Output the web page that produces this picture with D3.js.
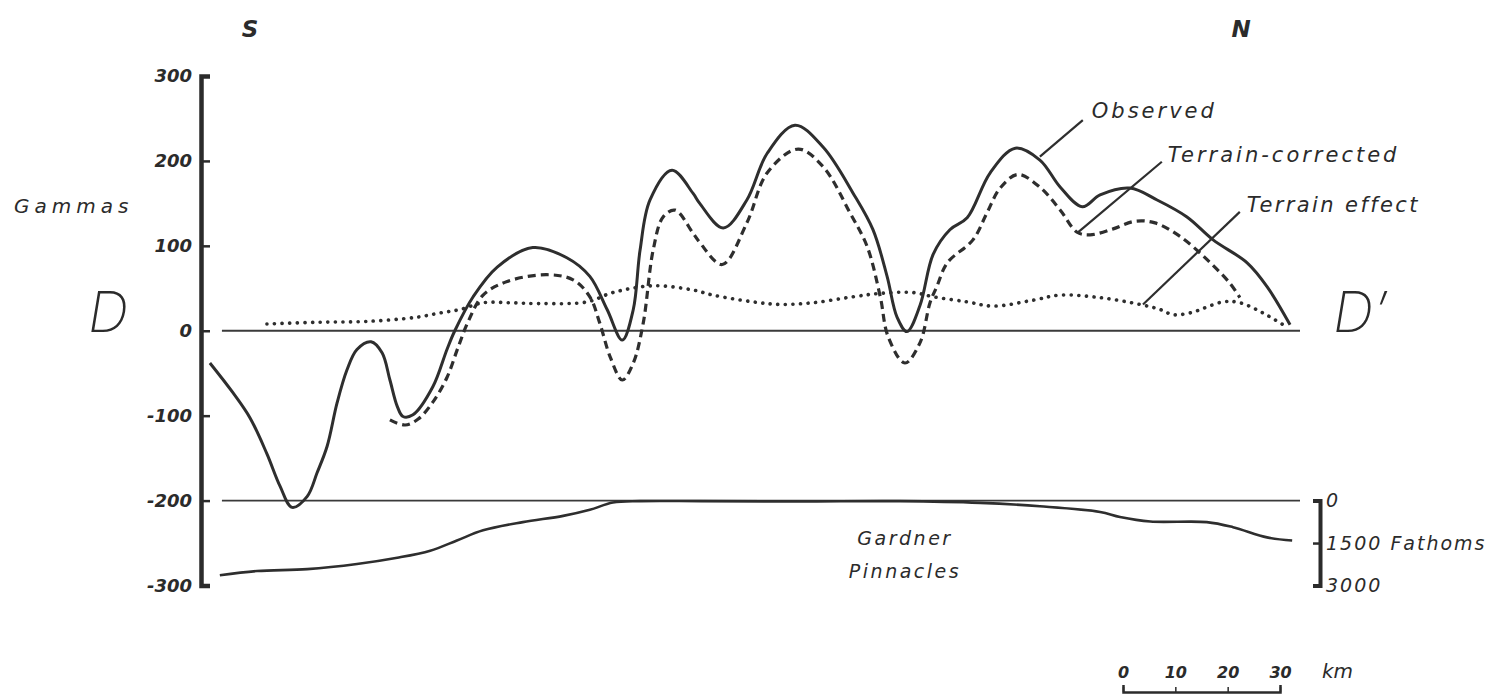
<!DOCTYPE html>
<meta charset="utf-8">
<style>
    body { margin: 0; background: #fff; }
    text {
        font-family: "DejaVu Sans", sans-serif;
        font-style: italic;
        fill: #2b2b2b;
    }
    .curve { fill: none; stroke: #2e2e2e; }
</style>

<body>
    <script src="https://d3js.org/d3.v7.min.js"></script>
    <script>
        // distance along profile D-D' in km, anomaly in gammas
        var observedKm = [1.7, 6.1, 9.4, 12.6, 15.1, 17.4, 20.3, 22.2, 24.1, 26.0, 27.9, 29.8, 32.5, 34.6, 36.1, 37.5, 38.6, 40.5, 44.3, 47.0, 48.5, 52.0, 56.6, 63.4, 69.9, 74.3, 77.6, 80.5, 82.6, 83.9, 85.8, 90.0, 94.0, 95.3, 99.8, 104.3, 108.2, 113.5, 118.9, 124.6, 128.4, 131.1, 133.0, 134.9, 137.4, 139.9, 143.1, 146.4, 150.8, 155.6, 160.3, 164.2, 168.4, 171.8, 177.5, 182.7, 188.4, 193.4, 199.9, 203.7, 208.1];
        var observedG = [-38, -73, -103, -145, -183, -208, -195, -167, -136, -85, -46, -22, -13, -26, -58, -89, -101, -99, -66, -22, 0, 40, 75, 98, 86, 64, 25, -11, 25, 95, 154, 189, 162, 150, 121, 154, 209, 242, 216, 162, 119, 64, 16, -1, 30, 90, 119, 133, 186, 215, 201, 169, 146, 160, 168, 154, 134, 107, 80, 52, 7];

        var correctedKm = [36.1, 39.0, 41.5, 44.3, 47.0, 49.1, 51.0, 53.9, 58.5, 66.1, 71.1, 74.3, 76.2, 78.2, 80.5, 82.6, 84.5, 86.4, 88.3, 90.6, 94.0, 95.3, 99.6, 104.3, 108.2, 114.1, 118.9, 124.0, 127.3, 129.8, 131.3, 134.5, 137.4, 139.3, 140.6, 142.6, 147.5, 150.2, 152.7, 156.1, 160.3, 164.2, 167.4, 169.9, 174.3, 178.5, 182.3, 187.1, 192.2, 196.6, 198.5];
        var correctedG = [-105, -111, -104, -84, -55, -20, 10, 42, 58, 66, 60, 40, 9, -31, -58, -38, 9, 95, 134, 142, 115, 104, 78, 127, 186, 214, 193, 139, 99, 40, -7, -38, -14, 33, 52, 80, 107, 139, 168, 184, 169, 142, 116, 113, 120, 129, 127, 111, 84, 56, 39];

        var effectKm = [12.6, 22.2, 31.7, 41.3, 45.7, 49.5, 53.9, 59.0, 64.8, 73.8, 78.7, 86.4, 94.0, 97.8, 105.5, 110.6, 116.9, 124.6, 129.8, 136.1, 139.9, 146.4, 151.3, 159.0, 164.2, 171.8, 179.4, 183.3, 185.7, 189.0, 195.3, 198.5, 202.9, 206.8];
        var effectG = [8, 10, 11, 16, 21, 25, 33, 33, 32, 34, 45, 53, 48, 42, 34, 31, 33, 40, 44, 45, 40, 34, 29, 36, 42, 39, 31, 25, 19, 21, 34, 33, 21, 7];

        // sea floor depth in fathoms
        var depthKm = [3.6, 10.7, 20.3, 29.8, 37.5, 43.8, 48.9, 53.9, 61.5, 69.2, 74.3, 78.7, 83.9, 95.4, 114.5, 133.6, 148.9, 160.3, 171.8, 175.6, 181.4, 192.2, 197.2, 203.7, 208.5];
        var depthFm = [2635, 2490, 2420, 2240, 2020, 1770, 1410, 1050, 760, 540, 325, 70, 20, 20, 30, 20, 80, 200, 400, 580, 740, 760, 940, 1300, 1410];

        var gammaTicks = [300, 200, 100, 0, -100, -200, -300];
        var depthTicks = [0, 1500, 3000];
        var kmTicks = [0, 10, 20, 30];

        var width = 1493, height = 699;

        var svg = d3.select("body").append("svg")
            .attr("width", width)
            .attr("height", height);

        var x = d3.scaleLinear().domain([0, 210]).range([201, 1300]);
        var y = d3.scaleLinear().domain([-300, 300]).range([585.5, 76]);
        var yDepth = d3.scaleLinear().domain([0, 3000]).range([y(-200), y(-300)]);

        function zip(xs, ys) {
            return xs.map(function (d, i) { return [d, ys[i]]; });
        }

        var line = d3.line()
            .x(function (d) { return x(d[0]); })
            .y(function (d) { return y(d[1]); })
            .curve(d3.curveCatmullRom.alpha(0.5));

        var depthLine = d3.line()
            .x(function (d) { return x(d[0]); })
            .y(function (d) { return yDepth(d[1]); })
            .curve(d3.curveCatmullRom.alpha(0.5));

        // gamma axis (ticks point into the plot, labels on the left)
        var yAxis = svg.append("g")
            .attr("transform", "translate(" + x(0) + ",0)")
            .call(d3.axisLeft(y)
                .tickValues(gammaTicks)
                .tickSizeInner(-9)
                .tickSizeOuter(-9)
                .tickPadding(9)
                .tickFormat(function (d) { return String(d); }));
        yAxis.select(".domain").attr("stroke", "#2b2b2b").attr("stroke-width", 4.5);
        yAxis.selectAll(".tick line").attr("stroke", "#2b2b2b").attr("stroke-width", 2.5);
        yAxis.selectAll(".tick text")
            .attr("fill", "#2b2b2b")
            .style("font-size", "18px")
            .style("font-weight", "bold");

        // reference lines at 0 and -200
        [0, -200].forEach(function (g) {
            svg.append("line")
                .attr("x1", x(4)).attr("x2", x(210))
                .attr("y1", y(g)).attr("y2", y(g))
                .attr("stroke", "#3a3a3a")
                .attr("stroke-width", 1.8);
        });

        // sea floor
        svg.append("path")
            .datum(zip(depthKm, depthFm))
            .attr("class", "curve")
            .attr("stroke-width", 2.6)
            .attr("d", depthLine);

        // terrain effect (dotted)
        svg.append("path")
            .datum(zip(effectKm, effectG))
            .attr("class", "curve")
            .attr("stroke-width", 3.6)
            .attr("stroke-linecap", "round")
            .attr("stroke-dasharray", "0.1,7.5")
            .attr("d", line);

        // terrain-corrected (dashed)
        svg.append("path")
            .datum(zip(correctedKm, correctedG))
            .attr("class", "curve")
            .attr("stroke-width", 3.2)
            .attr("stroke-dasharray", "8,5")
            .attr("d", line);

        // observed (solid)
        svg.append("path")
            .datum(zip(observedKm, observedG))
            .attr("class", "curve")
            .attr("stroke-width", 3)
            .attr("d", line);

        // leader labels
        var labels = [
            { text: "Observed", from: [160.3, 205], to: [168.5, 248], dx: 9, dy: -2 },
            { text: "Terrain-corrected", from: [167.4, 115], to: [183.6, 199], dx: 6, dy: 0 },
            { text: "Terrain effect", from: [180.0, 31], to: [198.5, 140], dx: 7, dy: 0 }
        ];
        labels.forEach(function (l) {
            svg.append("line")
                .attr("x1", x(l.from[0])).attr("y1", y(l.from[1]))
                .attr("x2", x(l.to[0])).attr("y2", y(l.to[1]))
                .attr("stroke", "#2e2e2e")
                .attr("stroke-width", 2.2);
            svg.append("text")
                .attr("x", x(l.to[0]) + l.dx)
                .attr("y", y(l.to[1]) + l.dy)
                .attr("font-size", 21)
                .attr("letter-spacing", l.text === "Terrain effect" ? "2.4px" : "3px")
                .text(l.text);
        });

        // fathom bracket on the right
        var dAxis = svg.append("g")
            .attr("transform", "translate(1320,0)")
            .call(d3.axisRight(yDepth)
                .tickValues(depthTicks)
                .tickSizeInner(-7)
                .tickSizeOuter(-7)
                .tickPadding(6)
                .tickFormat(function (d) { return d === 1500 ? "1500 Fathoms" : String(d); }));
        dAxis.select(".domain").attr("stroke", "#2b2b2b").attr("stroke-width", 4);
        dAxis.selectAll(".tick line").attr("stroke", "#2b2b2b").attr("stroke-width", 2.5);
        dAxis.selectAll(".tick text")
            .attr("fill", "#2b2b2b")
            .style("font-size", "19px")
            .style("letter-spacing", "2px");

        // km scale bar
        var sx = d3.scaleLinear().domain([0, 30]).range([1123, 1123 + x(30) - x(0)]);
        var kAxis = svg.append("g")
            .attr("transform", "translate(0,692)")
            .call(d3.axisTop(sx)
                .tickValues(kmTicks)
                .tickSizeInner(5)
                .tickSizeOuter(7)
                .tickPadding(9));
        kAxis.select(".domain").attr("stroke", "#2b2b2b").attr("stroke-width", 2.5);
        kAxis.selectAll(".tick line").attr("stroke", "#2b2b2b").attr("stroke-width", 1.5);
        kAxis.selectAll(".tick text")
            .attr("fill", "#2b2b2b")
            .style("font-size", "16px")
            .style("font-weight", "bold");
        svg.append("text")
            .attr("x", 1322).attr("y", 678)
            .attr("font-size", 20)
            .text("km");

        // other annotations
        svg.append("text").attr("x", 250).attr("y", 37)
            .attr("text-anchor", "middle").attr("font-size", 23)
            .style("font-weight", "bold").text("S");
        svg.append("text").attr("x", 1241).attr("y", 37)
            .attr("text-anchor", "middle").attr("font-size", 23)
            .style("font-weight", "bold").text("N");
        svg.append("text").attr("x", 14).attr("y", 213)
            .attr("font-size", 20).attr("letter-spacing", "5px").text("Gammas");
        svg.append("text").attr("x", 88).attr("y", 332)
            .style("font-family", "Inter, 'DejaVu Sans', sans-serif")
            .attr("font-size", 56).style("font-weight", 200).text("D");
        svg.append("text").attr("x", 1333).attr("y", 332)
            .style("font-family", "Inter, 'DejaVu Sans', sans-serif")
            .attr("font-size", 56).style("font-weight", 200).text("D\u2019");
        svg.append("text").attr("x", 905).attr("y", 545)
            .attr("text-anchor", "middle").attr("font-size", 19)
            .attr("letter-spacing", "2.5px").text("Gardner");
        svg.append("text").attr("x", 905).attr("y", 578)
            .attr("text-anchor", "middle").attr("font-size", 19)
            .attr("letter-spacing", "2.5px").text("Pinnacles");
    </script>
</body>
